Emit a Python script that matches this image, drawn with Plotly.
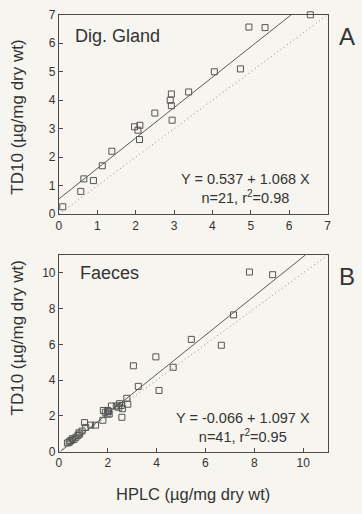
import plotly.graph_objects as go

# Panel A: digestive gland (HPLC vs TD10)
gland_hplc = [0.10, 0.57, 0.65, 0.90, 1.13, 1.38, 1.97, 2.06, 2.11, 2.10, 2.50,
              2.93, 2.90, 2.93, 2.95, 3.38, 4.05, 4.73, 4.95, 5.37, 6.55]
gland_td10 = [0.26, 0.80, 1.24, 1.18, 1.70, 2.21, 3.07, 2.95, 3.12, 2.62, 3.55,
              4.22, 4.00, 3.81, 3.30, 4.29, 5.00, 5.10, 6.57, 6.55, 7.00]
gland_fit = (0.537, 1.068)
gland_stats = "n=21, r<sup>2</sup>=0.98"

# Panel B: faeces
faeces_hplc = [0.35, 0.42, 0.50, 0.55, 0.62, 0.70, 0.78, 0.85, 0.82, 0.95, 1.05,
               1.10, 1.30, 1.50, 1.80, 1.82, 1.90, 1.98, 2.03, 2.06, 2.15, 2.35,
               2.45, 2.48, 2.55, 2.60, 2.58, 2.78, 2.82, 3.05, 3.25, 3.97, 4.10,
               4.68, 5.42, 6.65, 7.15, 7.80, 8.75, 2.00, 0.45]
faeces_td10 = [0.48, 0.52, 0.62, 0.72, 0.68, 0.80, 0.90, 0.98, 1.05, 1.15, 1.62,
               1.35, 1.48, 1.48, 1.75, 2.30, 2.20, 2.10, 2.25, 2.10, 2.55, 2.55,
               2.48, 2.68, 2.58, 2.40, 1.92, 2.98, 2.65, 4.80, 3.65, 5.30, 3.42,
               4.72, 6.28, 5.95, 7.65, 10.05, 9.90, 2.30, 0.58]
faeces_fit = (-0.066, 1.097)
faeces_stats = "n=41, r<sup>2</sup>=0.95"

W, H = 362, 514
ink = "#4a4a4a"
txt = "#333333"
font = "Liberation Sans, Arial, sans-serif"


def px(v, total):
    return v / total


fig = go.Figure()


def add_panel(xs, ys, fit, amax, xa, ya):
    b0, b1 = fit
    x_end = min(amax, (amax - b0) / b1)
    x_start = max(0, -b0 / b1)
    # 1:1 line
    fig.add_trace(go.Scatter(x=[0, amax], y=[0, amax], mode="lines",
                             line=dict(color="#8a8a8a", width=1, dash="1px,3px"),
                             xaxis=xa, yaxis=ya, hoverinfo="skip"))
    # regression line
    fig.add_trace(go.Scatter(x=[x_start, x_end], y=[b0 + b1 * x_start, b0 + b1 * x_end],
                             mode="lines", line=dict(color="#5a5a5a", width=1),
                             xaxis=xa, yaxis=ya, hoverinfo="skip"))
    fig.add_trace(go.Scatter(x=xs, y=ys, mode="markers",
                             marker=dict(symbol="square-open", size=6,
                                         color="#555555", line=dict(width=1)),
                             xaxis=xa, yaxis=ya, cliponaxis=False))


add_panel(gland_hplc, gland_td10, gland_fit, 7, "x", "y")
add_panel(faeces_hplc, faeces_td10, faeces_fit, 11, "x2", "y2")

axis_common = dict(showline=True, linecolor=ink, linewidth=1, mirror=True,
                   ticks="inside", ticklen=4, tickcolor=ink, showgrid=False,
                   zeroline=False, tickfont=dict(family=font, size=12, color=txt))

xdom = [px(57, W), px(331, W)]
fig.update_layout(
    width=W, height=H,
    margin=dict(l=0, r=0, t=0, b=0),
    paper_bgcolor="#f7f5ef", plot_bgcolor="#f7f5ef",
    showlegend=False,
    xaxis=dict(domain=xdom, range=[0, 7], dtick=1, anchor="y", **axis_common),
    yaxis=dict(domain=[1 - px(213, H), 1 - px(8, H)], range=[0, 7], dtick=1,
               anchor="x", **axis_common),
    xaxis2=dict(domain=xdom, range=[0, 11], dtick=2, anchor="y2", **axis_common),
    yaxis2=dict(domain=[1 - px(457, H), 1 - px(255, H)], range=[0, 11], dtick=2,
                anchor="x2", **axis_common),
)

ann = []
ytitle = "TD10 (µg/mg dry wt)"
for yc in (1 - px(113, H), 1 - px(340, H)):
    ann.append(dict(text=ytitle, x=px(15, W), y=yc, xref="paper", yref="paper",
                    xanchor="center", yanchor="middle",
                    textangle=-90, showarrow=False,
                    font=dict(family=font, size=17, color=txt)))
ann.append(dict(text="HPLC (µg/mg dry wt)", x=px(194, W), y=1 - px(501, H),
                xref="paper", yref="paper", xanchor="center", yanchor="middle",
                showarrow=False, font=dict(family=font, size=16.5, color=txt)))
ann.append(dict(text="A", x=px(351, W), y=1 - px(30, H), xref="paper", yref="paper",
                xanchor="center", yanchor="middle",
                showarrow=False, font=dict(family=font, size=24, color=txt)))
ann.append(dict(text="B", x=px(351, W), y=1 - px(277, H), xref="paper", yref="paper",
                xanchor="center", yanchor="middle",
                showarrow=False, font=dict(family=font, size=24, color=txt)))

ann.append(dict(text="Dig. Gland", x=0.36, y=6.25, xref="x", yref="y", xanchor="left",
                showarrow=False, font=dict(family=font, size=18, color=txt)))
ann.append(dict(text="Faeces", x=0.78, y=10.0, xref="x2", yref="y2", xanchor="left",
                showarrow=False, font=dict(family=font, size=18, color=txt)))

eq_font = dict(family=font, size=14.5, color=txt)


def eq_text(fit, stats):
    b0, b1 = fit
    return f"Y = {b0:.3f} + {b1:.3f} X<br>{stats}"


ann.append(dict(text=eq_text(gland_fit, gland_stats), x=4.86, y=0.90, xref="x", yref="y",
                align="center", showarrow=False, font=eq_font))
ann.append(dict(text=eq_text(faeces_fit, faeces_stats), x=7.54, y=1.37, xref="x2", yref="y2",
                align="center", showarrow=False, font=eq_font))

fig.update_layout(annotations=ann)
# drop the default page margin so the figure sits at the window's corner
fig.write_html("out.html", config={"displayModeBar": False},
               post_script="document.body.style.margin='0';document.body.style.overflow='hidden';")
